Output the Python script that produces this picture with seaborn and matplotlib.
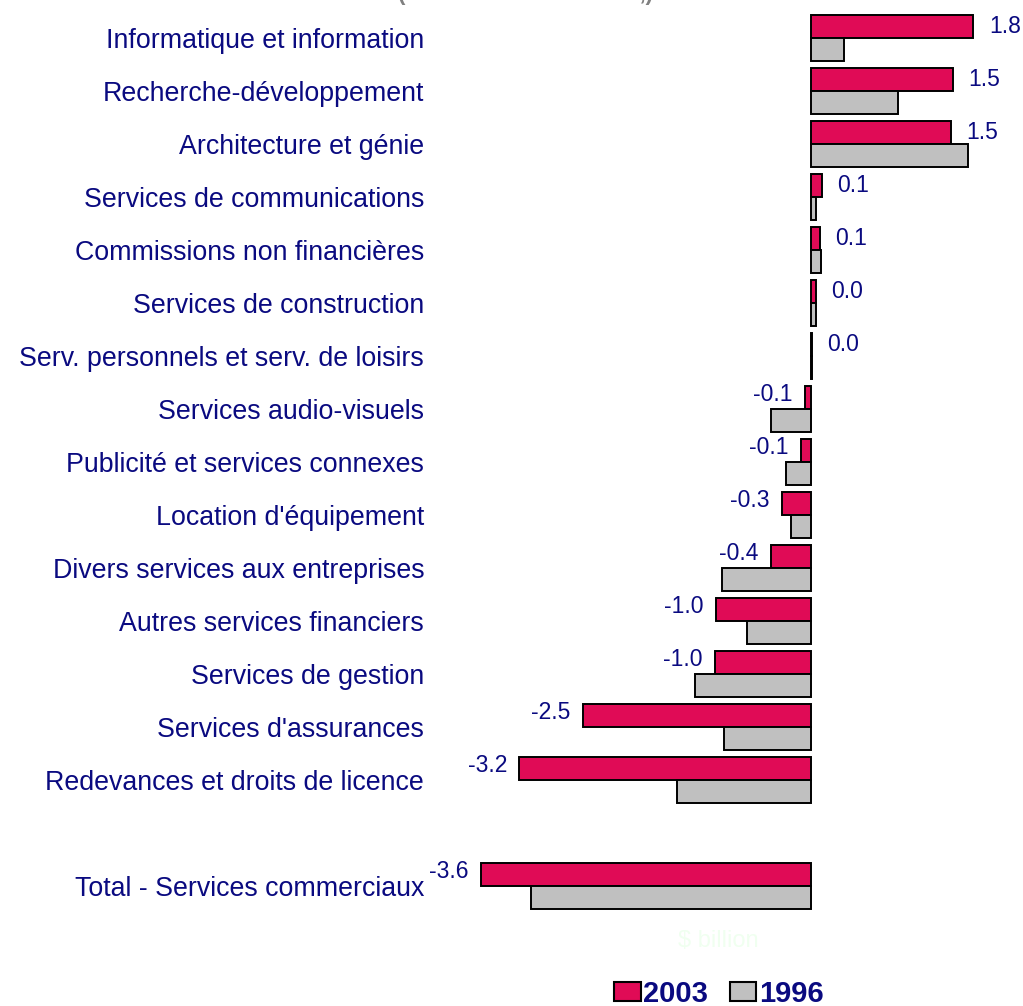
import matplotlib
matplotlib.use("Agg")
import matplotlib.pyplot as plt
import matplotlib.patches as mpatches
import seaborn as sns
import pandas as pd

categories = [
    "Informatique et information",
    "Recherche-développement",
    "Architecture et génie",
    "Services de communications",
    "Commissions non financières",
    "Services de construction",
    "Serv. personnels et serv. de loisirs",
    "Services audio-visuels",
    "Publicité et services connexes",
    "Location d'équipement",
    "Divers services aux entreprises",
    "Autres services financiers",
    "Services de gestion",
    "Services d'assurances",
    "Redevances et droits de licence",
    "Total - Services commerciaux",
]
values_2003 = [1.79, 1.56, 1.54, 0.12, 0.10, 0.05, 0.01, -0.07, -0.11, -0.32,
               -0.44, -1.05, -1.06, -2.51, -3.21, -3.63]
values_1996 = [0.36, 0.96, 1.73, 0.05, 0.11, 0.05, 0.01, -0.44, -0.27, -0.22,
               -0.98, -0.70, -1.28, -0.96, -1.48, -3.08]
labels_2003 = ["1.8", "1.5", "1.5", "0.1", "0.1", "0.0", "0.0", "-0.1", "-0.1",
               "-0.3", "-0.4", "-1.0", "-1.0", "-2.5", "-3.2", "-3.6"]
years = ["2003", "1996"]

NAVY = "#0a0a80"
RED = "#e00b56"
GREY = "#c0c0c0"

sns.set_theme(style="white")
plt.rcParams["font.family"] = ["Liberation Sans", "DejaVu Sans"]

df = pd.DataFrame({
    "cat": categories * 2,
    "value": values_2003 + values_1996,
    "year": [years[0]] * len(categories) + [years[1]] * len(categories),
})

order = categories[:-1] + [" "] + categories[-1:]

fig = plt.figure(figsize=(10.23, 10.06), dpi=100)
ax = fig.add_axes([0.4377, 0.0929, 0.5503, 0.8956])

sns.barplot(data=df, y="cat", x="value", hue="year", order=order,
            hue_order=years, palette=[RED, GREY], orient="h", width=0.87,
            edgecolor="black", linewidth=1.4, errorbar=None, legend=False,
            saturation=1, ax=ax)

ax.set_xlim(-4.0, 2.2)
ax.set_ylim(len(order) - 0.5, -0.5)
ax.set_xlabel("")
ax.set_ylabel("")
ax.set_xticks([])
for s in ax.spines.values():
    s.set_visible(False)
ax.tick_params(axis="y", length=0, pad=17, labelsize=19.3, labelcolor=NAVY)

# value labels on 2003 bars
lab_map = dict(zip(categories, labels_2003))
for p in ax.containers[0]:
    yc = p.get_y() + p.get_height() / 2
    idx = int(round(yc))
    cat = order[idx]
    if cat not in lab_map:
        continue
    w = p.get_width()
    x_end = p.get_x() + w
    if w >= 0:
        ax.annotate(lab_map[cat], (x_end, yc), xytext=(11, 0),
                    textcoords="offset points", ha="left", va="center",
                    fontsize=16.5, color=NAVY, annotation_clip=False)
    else:
        ax.annotate(lab_map[cat], (x_end, yc), xytext=(-9, 2),
                    textcoords="offset points", ha="right", va="center",
                    fontsize=16.5, color=NAVY, annotation_clip=False)

# unit label (very faint)
fig.text(0.702, 0.065, "$ billion", ha="center", va="center",
         fontsize=17, color="#f0fff0")

# title, clipped at the top edge as in the reference
fig.text(0.389, 1.0, "(en milliards de dollars,)", ha="left", va="baseline",
         fontsize=16, fontweight="bold", color="#808080")

handles = [mpatches.Patch(facecolor=RED, edgecolor="black", linewidth=1.5, label=years[0]),
           mpatches.Patch(facecolor=GREY, edgecolor="black", linewidth=1.5, label=years[1])]
leg = fig.legend(handles=handles, loc="center", bbox_to_anchor=(0.703, 0.012),
                 ncol=2, frameon=False, handlelength=0.9, handleheight=0.62,
                 handletextpad=0.1, columnspacing=0.75, borderaxespad=0,
                 prop={"size": 21, "weight": "bold"})
for t in leg.get_texts():
    t.set_color(NAVY)

fig.savefig("out.png", dpi=100)
